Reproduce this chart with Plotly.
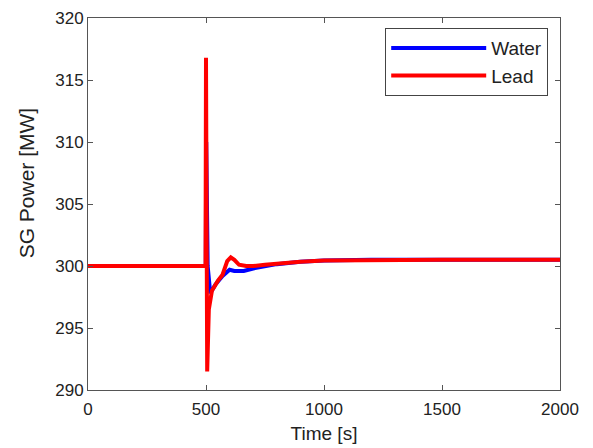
import plotly.graph_objects as go

# Lead (red) series
lead_t = [0, 498, 500, 505, 512, 525, 550, 570, 590, 605, 620, 640, 670, 700, 750, 800, 900, 1000, 1200, 1500, 2000]
lead_p = [300.0, 300.0, 316.8, 291.5, 296.5, 298.0, 298.8, 299.3, 300.4, 300.7, 300.5, 300.1, 300.0, 300.0, 300.1, 300.2, 300.35, 300.45, 300.5, 300.5, 300.5]

# Water (blue) series
water_t = [0, 499, 501, 507, 518, 540, 570, 600, 620, 660, 700, 750, 800, 900, 1000, 1200, 1500, 2000]
water_p = [300.0, 300.0, 310.0, 300.0, 297.8, 298.5, 299.2, 299.7, 299.6, 299.6, 299.8, 300.0, 300.15, 300.35, 300.45, 300.5, 300.5, 300.5]

x_ticks = [0, 500, 1000, 1500, 2000]
y_ticks = [290, 295, 300, 305, 310, 315, 320]

fig = go.Figure()
fig.add_trace(go.Scatter(x=water_t, y=water_p, mode="lines", name="Water",
                         line=dict(color="#0000ff", width=4)))
fig.add_trace(go.Scatter(x=lead_t, y=lead_p, mode="lines", name="Lead",
                         line=dict(color="#ff0000", width=4)))

axis_common = dict(showline=True, linecolor="#555", linewidth=1, mirror="ticks",
                   ticks="inside", ticklen=5, tickcolor="#555", showgrid=False,
                   zeroline=False, automargin=False,
                   tickfont=dict(size=17, color="#222"))

fig.update_layout(
    width=593, height=448,
    margin=dict(l=80, r=41, t=10, b=66),
    paper_bgcolor="white", plot_bgcolor="white",
    font=dict(family="Liberation Sans, Arial, sans-serif", size=17, color="#222"),
    xaxis=dict(range=[0, 2000], tickvals=x_ticks, ticklabelstandoff=4,
               title=dict(text="Time [s]", standoff=8, font=dict(size=19)), **axis_common),
    yaxis=dict(range=[290, 320], tickvals=y_ticks, **axis_common),
    legend=dict(x=0.975, xanchor="right", y=0.973, yanchor="top",
                bordercolor="#444", borderwidth=1, bgcolor="white",
                font=dict(size=19, color="#222"), itemwidth=95,
                tracegroupgap=0),
    showlegend=True,
    annotations=[dict(text="SG Power [MW]", textangle=-90, xref="paper", yref="paper",
                      x=-0.131, y=0.556, xanchor="center", yanchor="middle",
                      showarrow=False, font=dict(size=21, color="#222"))],
)

fig.write_html("out.html")
